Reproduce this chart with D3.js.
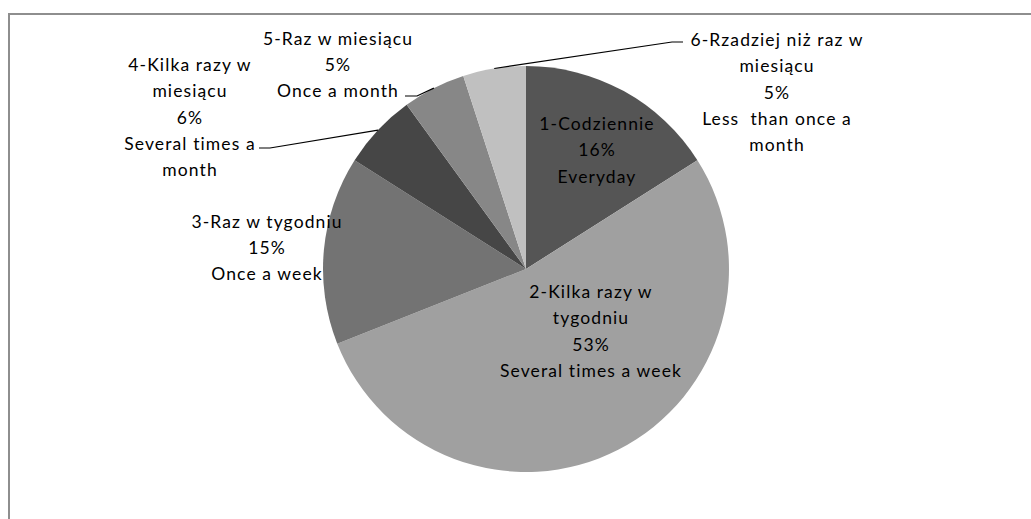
<!DOCTYPE html>
<html>
<head>
<meta charset="utf-8">
<script src="https://cdn.jsdelivr.net/npm/d3@7"></script>
<style>
body { margin: 0; background: #fff; }
text { font-family: Lato, "Open Sans", sans-serif; font-size: 17.5px; fill: #000; letter-spacing: 1.1px; }
</style>
</head>
<body>
<div id="chart"></div>
<script>
// data
var categories = ["1-Codziennie", "2-Kilka razy w tygodniu", "3-Raz w tygodniu",
                  "4-Kilka razy w miesiącu", "5-Raz w miesiącu", "6-Rzadziej niż raz w miesiącu"];
var values = [16, 53, 15, 6, 5, 5];
var english = ["Everyday", "Several times a week", "Once a week",
               "Several times a month", "Once a month", "Less  than once a month"];
// label lines, as broken in the picture
var labelLines = [
  ["1-Codziennie", "16%", "Everyday"],
  ["2-Kilka razy w", "tygodniu", "53%", "Several times a week"],
  ["3-Raz w tygodniu", "15%", "Once a week"],
  ["4-Kilka razy w", "miesiącu", "6%", "Several times a", "month"],
  ["5-Raz w miesiącu", "5%", "Once a month"],
  ["6-Rzadziej niż raz w", "miesiącu", "5%", "Less  than once a", "month"]
];

var colors = ["#555555", "#a0a0a0", "#737373", "#464646", "#878787", "#c0c0c0"];

var width = 1031, height = 519;
var cx = 526, cy = 269, radius = 203;
var lineH = 26.3;

// label layout: centre x, centre y of first line, leader elbow
var labelPos = [
  {x: 597, y: 124},
  {x: 591, y: 292},
  {x: 267, y: 221.5},
  {x: 190, y: 65, leader: {x: 270, y: 148, end: 259}},
  {x: 338, y: 38.5, leader: {x: 417, y: 96, end: 405}},
  {x: 777, y: 40, leader: {x: 672, y: 42, end: 683}}
];

var svg = d3.select("#chart")
            .append("svg")
            .attr("width", width)
            .attr("height", height);

// chart border (cut off at right and bottom)
svg.append("rect")
   .attr("x", 9).attr("y", 14)
   .attr("width", width + 20).attr("height", height + 20)
   .attr("fill", "none")
   .attr("stroke", "#8e8e8e")
   .attr("stroke-width", 2);

var pie = d3.pie().sort(null).value(function(d) { return d; });
var arcs = pie(values);
var arc = d3.arc().innerRadius(0).outerRadius(radius);

var g = svg.append("g").attr("transform", "translate(" + cx + "," + cy + ")");

g.selectAll("path")
 .data(arcs)
 .enter()
 .append("path")
 .attr("d", arc)
 .attr("fill", function(d, i) { return colors[i]; })
 .attr("id", function(d, i) { return categories[i]; });

// leader lines
for (var i = 0; i < arcs.length; i++) {
  var p = labelPos[i];
  if (!p.leader) continue;
  var a = (arcs[i].startAngle + arcs[i].endAngle) / 2;
  var sx = cx + radius * Math.sin(a), sy = cy - radius * Math.cos(a);
  var pts = [[sx, sy], [p.leader.x, p.leader.y], [p.leader.end, p.leader.y]];
  svg.append("path")
     .attr("d", d3.line()(pts))
     .attr("stroke", "#000")
     .attr("stroke-width", 1.2)
     .attr("fill", "none");
}

// labels
for (var i = 0; i < labelLines.length; i++) {
  var p = labelPos[i];
  var t = svg.append("text")
             .attr("text-anchor", "middle");
  for (var k = 0; k < labelLines[i].length; k++) {
    t.append("tspan")
     .attr("x", p.x)
     .attr("y", p.y + k * lineH)
     .attr("dy", "0.35em")
     .attr("xml:space", "preserve")
     .text(labelLines[i][k]);
  }
}
</script>
</body>
</html>
